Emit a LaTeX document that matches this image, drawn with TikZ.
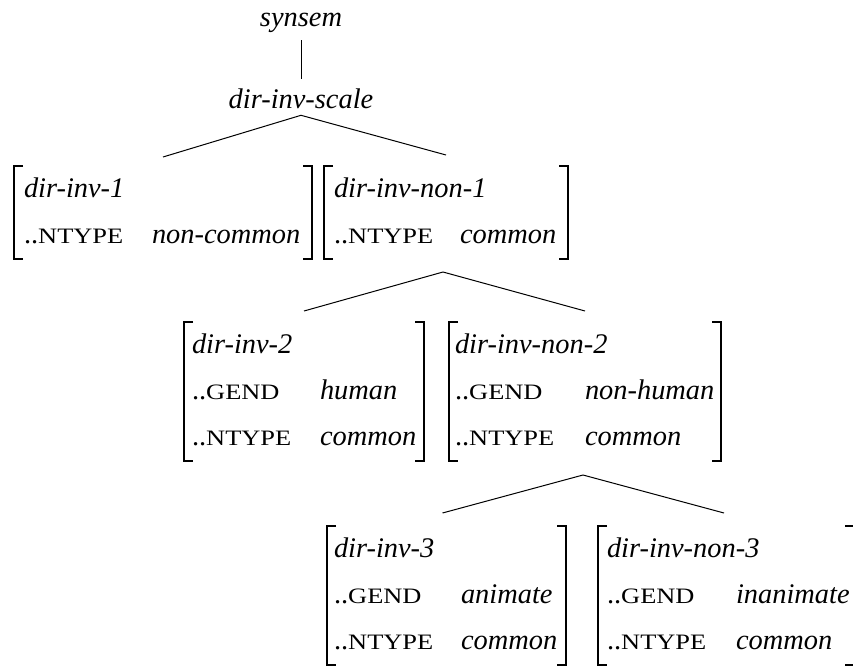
\documentclass[tikz,border=0pt]{standalone}
\usepackage{fontspec}
\setmainfont{Liberation Serif}
\newfontfamily\scfont[FakeStretch=1.2]{Liberation Serif}
\tikzset{
  lbl/.style={inner sep=0pt, outer sep=0pt, anchor=base west, font=\fontsize{28.4}{34}\selectfont},
  val/.style={lbl, font=\fontsize{28.4}{34}\selectfont\itshape},
  avm/.style={inner sep=0pt, outer sep=0pt, draw=none, rectangle},
  brk/.style={line width=1.6pt},
  edge/.style={line width=1pt},
}
\newcommand\smc[1]{{\scfont\fontsize{22}{22}\selectfont #1}}
\newcommand\avmbrackets[1]{%
  \draw[brk] ([xshift=9pt]#1.north west) -| (#1.south west) -- ([xshift=9pt]#1.south west);
  \draw[brk] ([xshift=-9pt]#1.north east) -| (#1.south east) -- ([xshift=-9pt]#1.south east);}
\begin{document}
\begin{tikzpicture}[x=1pt,y=-1pt]
\useasboundingbox (0,0) rectangle (853,669);

% top
\node[val, anchor=base] (syn) at (301,27) {synsem};
\node[val, anchor=base] (scale) at (301,108) {dir-inv-scale};

% AVM boxes
\node[avm, minimum width=298pt, minimum height=93pt] (a1) at (163,212.5) {};
\node[avm, minimum width=244pt, minimum height=93pt] (a2) at (446,212.5) {};
\node[avm, minimum width=240pt, minimum height=139pt] (a3) at (304,391.5) {};
\node[avm, minimum width=272pt, minimum height=139pt] (a4) at (585,391.5) {};
\node[avm, minimum width=239pt, minimum height=139pt] (a5) at (446.5,595.5) {};
\node[avm, minimum width=256pt, minimum height=139pt] (a6) at (726,595.5) {};
\avmbrackets{a1}
\avmbrackets{a2}
\avmbrackets{a3}
\avmbrackets{a4}
\avmbrackets{a5}
\avmbrackets{a6}

% AVM 1
\node[val] (a1t) at (24,197) {dir-inv-1};
\node[lbl] (a1l1) at (24,243) {..\smc{NTYPE}};
\node[val] (a1v1) at (152,243) {non-common};
% AVM 2
\node[val] (a2t) at (334,197) {dir-inv-non-1};
\node[lbl] (a2l1) at (334,243) {..\smc{NTYPE}};
\node[val] (a2v1) at (460,243) {common};
% AVM 3
\node[val] (a3t) at (192,353) {dir-inv-2};
\node[lbl] (a3l1) at (192,399) {..\smc{GEND}};
\node[val] (a3v1) at (320,399) {human};
\node[lbl] (a3l2) at (192,445) {..\smc{NTYPE}};
\node[val] (a3v2) at (320,445) {common};
% AVM 4
\node[val] (a4t) at (455,353) {dir-inv-non-2};
\node[lbl] (a4l1) at (455,399) {..\smc{GEND}};
\node[val] (a4v1) at (585,399) {non-human};
\node[lbl] (a4l2) at (455,445) {..\smc{NTYPE}};
\node[val] (a4v2) at (585,445) {common};
% AVM 5
\node[val] (a5t) at (334,557) {dir-inv-3};
\node[lbl] (a5l1) at (334,603) {..\smc{GEND}};
\node[val] (a5v1) at (461,603) {animate};
\node[lbl] (a5l2) at (334,649) {..\smc{NTYPE}};
\node[val] (a5v2) at (461,649) {common};
% AVM 6
\node[val] (a6t) at (607,557) {dir-inv-non-3};
\node[lbl] (a6l1) at (607,603) {..\smc{GEND}};
\node[val] (a6v1) at (736,603) {inanimate};
\node[lbl] (a6l2) at (607,649) {..\smc{NTYPE}};
\node[val] (a6v2) at (736,649) {common};

% tree edges
\draw[edge] ([yshift=-7pt]syn.south) -- ([yshift=9pt]scale.north);
\draw[edge] ([yshift=-7pt]scale.south) -- ([yshift=9pt]a1.north);
\draw[edge] ([yshift=-7pt]scale.south) -- ([yshift=11pt]a2.north);
\draw[edge] ([xshift=-3pt,yshift=-13pt]a2.south) -- ([yshift=11pt]a3.north);
\draw[edge] ([xshift=-3pt,yshift=-13pt]a2.south) -- ([yshift=11pt]a4.north);
\draw[edge] ([xshift=-2pt,yshift=-14pt]a4.south) -- ([xshift=-4pt,yshift=13pt]a5.north);
\draw[edge] ([xshift=-2pt,yshift=-14pt]a4.south) -- ([xshift=-2pt,yshift=13pt]a6.north);
\end{tikzpicture}
\end{document}
